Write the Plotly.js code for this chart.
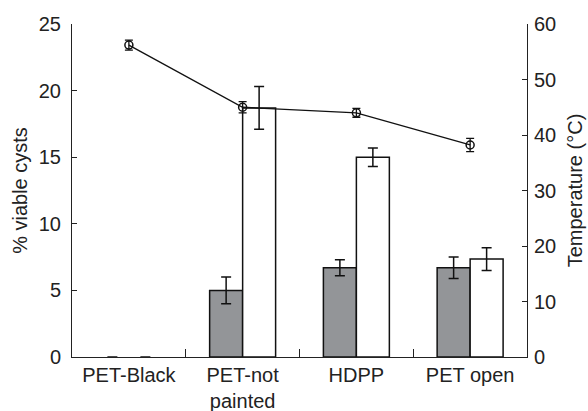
<!DOCTYPE html>
<html><head><meta charset="utf-8">
<script src="https://cdn.plot.ly/plotly-3.0.1.min.js"></script>
<style>html,body{margin:0;padding:0;background:#fff}</style>
</head><body><div id="chart" style="width:588px;height:411px"></div>
<script>
const categories = ["PET-Black", "PET-not<br>painted", "HDPP", "PET open"];
const greyVals = [0, 5.0, 6.7, 6.7];
const greyErr = [0, 1.0, 0.6, 0.8];
const whiteVals = [0, 18.7, 15.0, 7.35];
const whiteErr = [0, 1.6, 0.7, 0.85];
const tempVals = [56.2, 45.0, 44.0, 38.2];
const tempErr = [0.9, 1.0, 0.8, 1.2];

const font = {family: "Liberation Sans, Arial, sans-serif", size: 20, color: "#222"};
const outline = greyVals.map(v => v === 0 ? 0 : 1.5);
const outline2 = whiteVals.map(v => v === 0 ? 0 : 1.5);
const traces = [
  {type: "bar", x: categories, y: greyVals, marker: {color: "#939598", line: {color: "#111", width: outline}},
   error_y: {type: "data", array: greyErr, visible: true, color: "#111", thickness: 1.5, width: 5}},
  {type: "bar", x: categories, y: whiteVals, marker: {color: "#ffffff", line: {color: "#111", width: outline2}},
   error_y: {type: "data", array: whiteErr, visible: true, color: "#111", thickness: 1.5, width: 5}},
  {type: "scatter", mode: "lines+markers", x: categories, y: tempVals, yaxis: "y2",
   line: {color: "#111", width: 1.3},
   marker: {symbol: "circle-open", size: 8, color: "#111", line: {width: 1.5}},
   error_y: {type: "data", array: tempErr, visible: true, color: "#111", thickness: 1.3, width: 4}}
];
const layout = {
  width: 588, height: 411, showlegend: false,
  margin: {l: 72, r: 61, t: 24, b: 54},
  paper_bgcolor: "#fff", plot_bgcolor: "#fff",
  font: font,
  barmode: "group", bargap: 0.42, bargroupgap: 0,
  xaxis: {type: "category", showline: true, linecolor: "#222", linewidth: 1,
          ticks: "inside", tickson: "boundaries", ticklen: 8, tickcolor: "#222",
          showgrid: false, zeroline: false, tickfont: font},
  yaxis: {range: [0, 25], tickvals: [0,5,10,15,20,25], showline: true, linecolor: "#222", linewidth: 1,
          ticks: "inside", ticklen: 5, tickcolor: "#222", showgrid: false, zeroline: false,
          ticklabelstandoff: 6,
          title: {text: "% viable cysts", font: {family: font.family, size: 20, color: "#222"}, standoff: 5},
          tickfont: font},
  yaxis2: {range: [0, 60], tickvals: [0,10,20,30,40,50,60], overlaying: "y", side: "right",
           showline: true, linecolor: "#222", linewidth: 1, ticks: "inside", ticklen: 5, tickcolor: "#222",
           showgrid: false, zeroline: false, ticklabelstandoff: 2,
           title: {text: "Temperature (°C)", font: {family: font.family, size: 20, color: "#222"}, standoff: 12},
           tickfont: font}
};
Plotly.newPlot("chart", traces, layout, {displayModeBar: false, staticPlot: true});
</script></body></html>
